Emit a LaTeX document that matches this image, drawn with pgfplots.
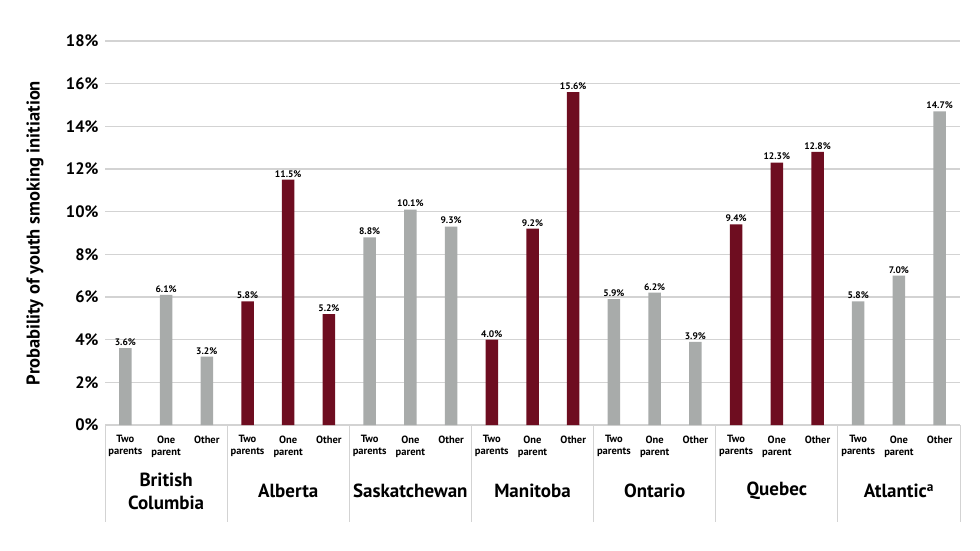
\documentclass[border=0pt]{standalone}
\usepackage{pgfplots}
\pgfplotsset{compat=1.18}
\usepackage{fontspec}
\setmainfont{PT Sans}
\definecolor{bargray}{HTML}{A8ABAA}
\definecolor{barred}{HTML}{6E0D20}
\definecolor{gridc}{HTML}{D3D3D3}
\begin{document}
\begin{tikzpicture}[x=1pt,y=1pt]
\useasboundingbox (0,0) rectangle (980,550);
\begin{axis}[
  at={(105pt,125pt)}, anchor=south west,
  scale only axis, width=855pt, height=384pt,
  xmin=0, xmax=21, ymin=0, ymax=18,
  ytick={0,2,...,18},
  yticklabel={\pgfmathprintnumber{\tick}\%},
  /pgf/number format/assume math mode=true,
  yticklabel style={font=\bfseries\fontsize{16.5}{16.5}\selectfont, xshift=-3pt},
  ymajorgrids, grid style={gridc, line width=1.3pt},
  axis line style={draw=none},
  major tick length=0pt,
  xtick={0.5,1.5,...,20.5},
  xticklabels={Two\\parents,One\\parent,Other,Two\\parents,One\\parent,Other,Two\\parents,One\\parent,Other,Two\\parents,One\\parent,Other,Two\\parents,One\\parent,Other,Two\\parents,One\\parent,Other,Two\\parents,One\\parent,Other},
  xticklabel style={font=\bfseries\fontsize{10.5}{12}\selectfont, align=center, anchor=north, yshift=-7pt},
  ybar, bar width=12.5pt, bar shift=0pt,
  clip=false,
  ylabel={\bfseries Probability of youth smoking initiation},
  ylabel style={at={(axis description cs:-0.082,0.5)}, anchor=center, font=\fontsize{18.5}{18.5}\selectfont},
  nodes near coords={\pgfmathprintnumber[fixed,fixed zerofill,precision=1]{\pgfplotspointmeta}\%},
  every node near coord/.append style={font=\bfseries\fontsize{9.5}{9.5}\selectfont, black, yshift=-1pt},
]
\addplot[fill=bargray, draw=none] coordinates {
 (0.5,3.6) (1.5,6.1) (2.5,3.2)
 (6.5,8.8) (7.5,10.1) (8.5,9.3)
 (12.5,5.9) (13.5,6.2) (14.5,3.9)
 (18.5,5.8) (19.5,7.0) (20.5,14.7)};
\addplot[fill=barred, draw=none] coordinates {
 (3.5,5.8) (4.5,11.5) (5.5,5.2)
 (9.5,4.0) (10.5,9.2) (11.5,15.6)
 (15.5,9.4) (16.5,12.3) (17.5,12.8)};
\pgfplotsinvokeforeach{0,3,6,9,12,15,18,21}{
  \draw[gridc, line width=1pt] (axis cs:#1,0) -- ++(0pt,-97pt);
}
\begin{scope}[every node/.style={font=\bfseries\fontsize{19}{23}\selectfont, align=center}]
\node at ([yshift=-66pt]axis cs:1.5,0) {British\\Columbia};
\node at ([yshift=-66pt]axis cs:4.5,0) {Alberta};
\node at ([yshift=-66pt]axis cs:7.5,0) {Saskatchewan};
\node at ([yshift=-66pt]axis cs:10.5,0) {Manitoba};
\node at ([yshift=-66pt]axis cs:13.5,0) {Ontario};
\node at ([yshift=-66pt]axis cs:16.5,0) {Quebec};
\node at ([yshift=-66pt]axis cs:19.5,0) {Atlantic\textsuperscript{a}};
\end{scope}
\end{axis}
\end{tikzpicture}
\end{document}
